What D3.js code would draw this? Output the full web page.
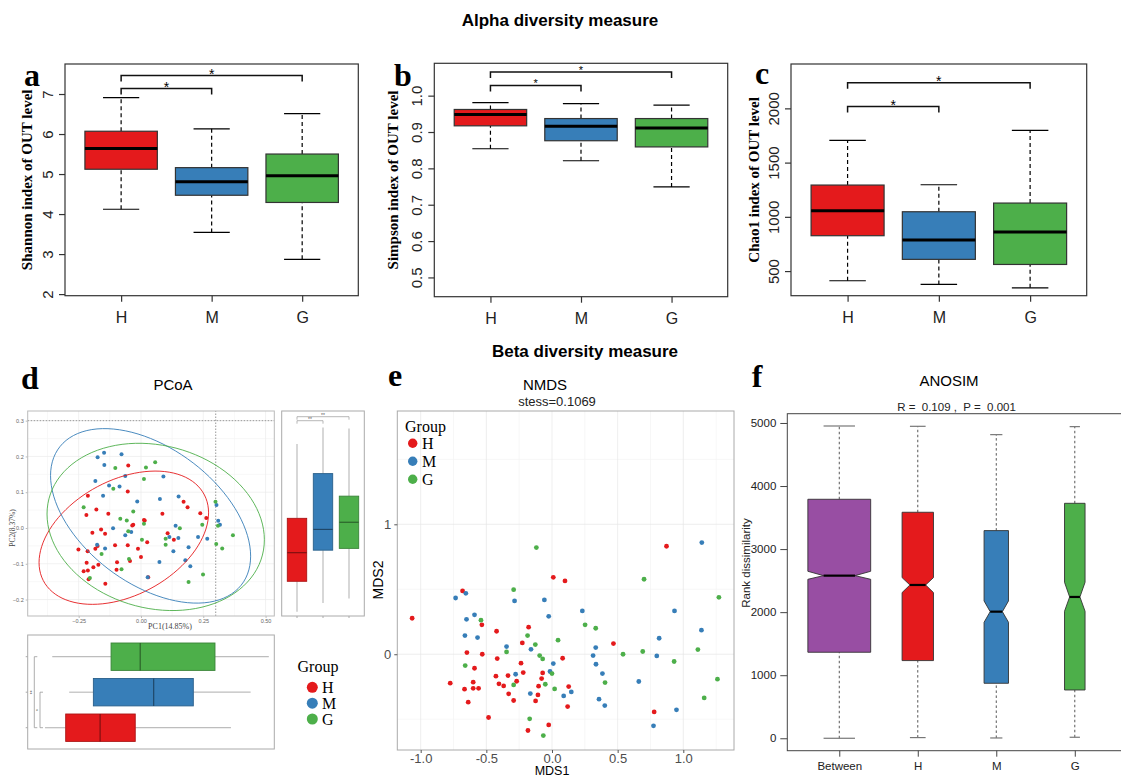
<!DOCTYPE html>
<html>
<head>
<meta charset="utf-8">
<script src="https://cdn.jsdelivr.net/npm/d3@7"></script>
<style>
body { margin: 0; background: #fff; }
svg { display: block; }
</style>
</head>
<body>
<script>
// ---- data ----
var groups = ["H", "M", "G"];
var groupColors = ["#E41A1C", "#377EB8", "#4DAF4A"];

// alpha diversity, per group: [low whisker, Q1, median, Q3, high whisker]
var shannon = [[4.12, 5.12, 5.64, 6.07, 6.91], [3.54, 4.47, 4.81, 5.16, 6.13], [2.87, 4.29, 4.96, 5.50, 6.51]];
var simpson = [[0.854, 0.917, 0.948, 0.962, 0.981], [0.821, 0.876, 0.916, 0.937, 0.978], [0.749, 0.859, 0.911, 0.937, 0.974]];
var chao1 = [[411, 826, 1056, 1293, 1705], [377, 608, 786, 1047, 1296], [346, 561, 860, 1127, 1797]];

// PCoA scores [PC1, PC2]
var pcoaH = [[-0.051,0.175],[-0.213,0.090],[-0.053,0.102],[-0.219,0.036],[-0.179,0.052],[-0.131,0.040],[0.015,0.021],[0.012,0.022],
  [-0.031,0.009],[-0.035,0.007],[0.086,0.040],[0.171,0.073],[0.187,0.058],[0.238,0.041],[0.262,0.028],[-0.195,-0.013],[-0.160,-0.004],
  [-0.144,-0.016],[-0.104,-0.048],[-0.053,-0.048],[-0.174,-0.050],[-0.183,-0.058],[-0.214,-0.065],[-0.251,-0.060],[-0.012,-0.058],
  [0.025,-0.040],[0.000,-0.081],[0.107,-0.015],[0.132,-0.033],[-0.096,-0.096],[-0.044,-0.092],[-0.218,-0.097],[-0.171,-0.103],
  [-0.191,-0.110],[-0.230,-0.121],[-0.213,-0.119],[-0.098,-0.117],[-0.210,-0.143],[-0.143,-0.156],[0.029,-0.138]];
var pcoaM = [[-0.174,0.198],[-0.148,0.210],[-0.078,0.206],[-0.147,0.176],[-0.063,0.145],[-0.183,0.131],[-0.128,0.119],[-0.086,0.116],
  [-0.152,0.090],[0.090,0.144],[-0.015,0.074],[0.076,0.081],[0.151,0.088],[0.303,0.064],[0.310,0.020],[0.317,0.009],[0.266,-0.030],
  [0.229,-0.025],[0.178,-0.090],[0.198,-0.107],[0.191,-0.054],[0.150,-0.028],[0.130,-0.065],[0.114,-0.025],[0.139,0.006],[0.074,-0.095],
  [0.027,-0.138],[-0.039,-0.011],[-0.063,-0.020],[-0.112,-0.001],[-0.176,-0.047],[-0.144,-0.057]];
var pcoaG = [[-0.103,0.168],[0.020,0.169],[0.057,0.184],[0.012,0.137],[-0.111,0.110],[-0.230,0.058],[-0.031,0.046],[-0.083,0.026],
  [-0.057,0.021],[0.012,0.012],[-0.051,-0.009],[0.004,-0.033],[0.099,-0.030],[0.099,-0.047],[0.156,-0.001],[0.246,0.009],[0.299,0.073],
  [0.309,0.006],[0.369,-0.020],[0.302,-0.045],[0.326,-0.057],[0.249,-0.130],[0.191,-0.151],[-0.048,-0.087],[-0.078,-0.115],
  [-0.158,-0.073],[-0.205,-0.140]];
// marginal boxplots [low, Q1, median, Q3, high]
var pc1Box = [[-0.385, -0.302, -0.164, -0.023, 0.361], [-0.288, -0.191, 0.051, 0.210, 0.440], [-0.356, -0.120, -0.003, 0.297, 0.513]];
var pc2Box = [[-0.234, -0.149, -0.069, 0.027, 0.235], [-0.210, -0.062, -0.004, 0.152, 0.281], [-0.197, -0.057, 0.016, 0.089, 0.278]];

// NMDS scores [MDS1, MDS2]
var nmdsH = [[-1.065,0.277],[-0.681,0.487],[0.010,0.592],[0.099,0.564],[0.872,0.831],[-0.534,0.226],[-0.422,0.177],[-0.178,0.208],
  [-0.648,0.013],[-0.531,0.000],[-0.417,-0.033],[-0.590,-0.108],[-0.226,0.087],[-0.236,-0.069],[-0.219,-0.141],[0.081,-0.031],
  [0.468,0.082],[-0.775,-0.223],[-0.666,-0.269],[-0.600,-0.215],[-0.600,-0.262],[-0.559,-0.262],[-0.638,-0.369],[-0.427,-0.169],
  [-0.335,-0.164],[-0.404,-0.228],[-0.368,-0.244],[-0.269,-0.208],[-0.330,-0.305],[-0.292,-0.356],[-0.071,-0.144],[-0.079,-0.187],
  [-0.102,-0.246],[-0.107,-0.313],[-0.125,-0.359],[0.127,-0.249],[0.119,-0.403],[-0.483,-0.487],[-0.183,-0.587],[-0.025,-0.544],
  [0.778,-0.444]];
var nmdsM = [[-0.734,0.433],[-0.656,0.469],[-0.285,0.410],[-0.058,0.418],[-0.025,0.292],[0.231,0.333],[-0.651,0.269],[-0.590,0.303],
  [-0.663,0.144],[-0.567,0.128],[-0.346,0.059],[-0.160,0.038],[0.010,-0.072],[-0.277,-0.154],[-0.015,-0.133],[-0.165,-0.303],
  [0.089,-0.321],[0.147,-0.290],[0.313,-0.010],[0.333,0.051],[0.335,-0.077],[0.384,-0.149],[0.358,-0.346],[0.402,-0.395],
  [0.661,-0.210],[0.798,-0.013],[0.816,0.123],[0.933,0.333],[1.138,0.185],[1.141,0.859],[0.948,-0.428],[0.773,-0.551]];
var nmdsG = [[-0.119,0.821],[-0.292,0.497],[-0.541,0.262],[-0.186,0.144],[-0.127,0.074],[0.046,0.108],[-0.346,0.018],[-0.094,-0.010],
  [-0.071,-0.036],[-0.661,-0.087],[-0.292,-0.236],[-0.051,-0.231],[0.000,-0.149],[0.020,-0.267],[-0.170,-0.497],[-0.066,-0.626],
  [0.252,0.226],[0.333,0.200],[0.404,-0.218],[0.541,0.000],[0.691,0.021],[0.701,0.577],[0.930,-0.056],[1.111,0.036],[1.271,0.438],
  [1.260,-0.192],[1.159,-0.336]];

// ANOSIM rank dissimilarity
var anosimNames = ["Between", "H", "M", "G"];
var anosimColors = ["#984EA3", "#E41A1C", "#377EB8", "#4DAF4A"];
var anosimPairs = [3283, 820, 496, 351];
var anosimStats = [[0, 1364, 2579, 3790, 4952], [11, 1232, 2431, 3584, 4947], [5, 872, 2008, 3293, 4815], [16, 766, 2241, 3726, 4942]];
var anosimNotch = [[2521, 2648], [2310, 2548], [1839, 2178], [2014, 2474]];

// ---- drawing ----
var svg = d3.select("body").append("svg")
  .attr("width", 1121).attr("height", 777)
  .style("font-family", "'Liberation Sans', Arial, sans-serif");
svg.append("rect").attr("width", 1121).attr("height", 777).attr("fill", "#fff");

var serif = "'Liberation Serif', 'Times New Roman', serif";

svg.append("text").attr("x", 560).attr("y", 26).attr("text-anchor", "middle")
  .attr("font-weight", "bold").attr("font-size", 17).text("Alpha diversity measure");
svg.append("text").attr("x", 585).attr("y", 357).attr("text-anchor", "middle")
  .attr("font-weight", "bold").attr("font-size", 17).text("Beta diversity measure");

function letter(t, x, y) {
  svg.append("text").attr("x", x).attr("y", y).attr("text-anchor", "middle")
    .attr("font-family", serif).attr("font-weight", "bold").attr("font-size", 32).text(t);
}

function alphaPanel(o) {
  var x = d3.scaleLinear().domain([0.38, 3.62]).range([o.left, o.right]);
  var y = d3.scaleLinear().domain(o.domain).range([o.bottom, o.top]);
  var g = svg.append("g");
  var hw = x(1.4) - x(1);

  o.stats.forEach(function(s, i) {
    var cx = x(i + 1);
    g.append("line").attr("x1", cx).attr("x2", cx).attr("y1", y(s[0])).attr("y2", y(s[1]))
      .attr("stroke", "#000").attr("stroke-width", 1.2).attr("stroke-dasharray", "4,3");
    g.append("line").attr("x1", cx).attr("x2", cx).attr("y1", y(s[3])).attr("y2", y(s[4]))
      .attr("stroke", "#000").attr("stroke-width", 1.2).attr("stroke-dasharray", "4,3");
    [s[0], s[4]].forEach(function(v) {
      g.append("line").attr("x1", cx - hw / 2).attr("x2", cx + hw / 2).attr("y1", y(v)).attr("y2", y(v))
        .attr("stroke", "#000").attr("stroke-width", 1.2);
    });
    g.append("rect").attr("x", cx - hw).attr("y", y(s[3])).attr("width", 2 * hw).attr("height", y(s[1]) - y(s[3]))
      .attr("fill", groupColors[i]).attr("stroke", "#333").attr("stroke-width", 1.2);
    g.append("line").attr("x1", cx - hw).attr("x2", cx + hw).attr("y1", y(s[2])).attr("y2", y(s[2]))
      .attr("stroke", "#000").attr("stroke-width", 3);
  });

  g.append("rect").attr("x", o.left).attr("y", o.top).attr("width", o.right - o.left).attr("height", o.bottom - o.top)
    .attr("fill", "none").attr("stroke", "#333").attr("stroke-width", 1.2);

  var ya = g.append("g").attr("transform", "translate(" + o.left + ",0)")
    .call(d3.axisLeft(y).tickValues(o.ticks).tickSize(6).tickFormat(o.fmt));
  ya.select(".domain").remove();
  ya.selectAll("line").attr("stroke", "#333").attr("stroke-width", 1.2);
  ya.selectAll("text").attr("transform", "rotate(-90)").attr("x", 0).attr("y", -12).attr("dy", 0)
    .attr("text-anchor", "middle").attr("font-size", 15).attr("fill", "#222");

  var xa = g.append("g").attr("transform", "translate(0," + o.bottom + ")")
    .call(d3.axisBottom(x).tickValues([1, 2, 3]).tickSize(6).tickPadding(10).tickFormat(function(d) { return groups[d - 1]; }));
  xa.select(".domain").remove();
  xa.selectAll("line").attr("stroke", "#333").attr("stroke-width", 1.2);
  xa.selectAll("text").attr("font-size", 16).attr("fill", "#222");

  g.append("text").attr("transform", "translate(" + (o.left - o.labelOff) + "," + ((o.top + o.bottom) / 2) + ") rotate(-90)")
    .attr("text-anchor", "middle").attr("font-family", serif).attr("font-weight", "bold").attr("font-size", 15)
    .text(o.ylabel);

  o.brackets.forEach(function(b) {
    var x1 = x(b.from + 1), x2 = x(b.to + 1), yy = y(b.level);
    g.append("path").attr("d", "M" + x1 + "," + (yy + 6) + "V" + yy + "H" + x2 + "V" + (yy + 6))
      .attr("fill", "none").attr("stroke", "#111").attr("stroke-width", 1.5);
    g.append("text").attr("x", (x1 + x2) / 2).attr("y", yy + o.starDy).attr("text-anchor", "middle")
      .attr("font-size", o.starSize).text("*");
  });
}

alphaPanel({ left: 65, right: 358.3, top: 64, bottom: 295.7, domain: [1.96, 7.75], ticks: [2, 3, 4, 5, 6, 7],
  fmt: d3.format("d"), stats: shannon, ylabel: "Shannon index of OUT level", labelOff: 33, starSize: 14, starDy: 3.5,
  brackets: [{ from: 0, to: 1, level: 7.14 }, { from: 0, to: 2, level: 7.46 }] });
alphaPanel({ left: 434.3, right: 727.7, top: 63.3, bottom: 296.7, domain: [0.447, 1.089], ticks: [0.5, 0.6, 0.7, 0.8, 0.9, 1.0],
  fmt: d3.format(".1f"), stats: simpson, ylabel: "Simpson index of OUT level", labelOff: 36, starSize: 11, starDy: 2,
  brackets: [{ from: 0, to: 1, level: 1.028 }, { from: 0, to: 2, level: 1.065 }] });
alphaPanel({ left: 791, right: 1086.7, top: 64, bottom: 295.7, domain: [273, 2409], ticks: [500, 1000, 1500, 2000],
  fmt: d3.format("d"), stats: chao1, ylabel: "Chao1 index of OUT level", labelOff: 32, starSize: 14, starDy: 3.5,
  brackets: [{ from: 0, to: 1, level: 2018 }, { from: 0, to: 2, level: 2237 }] });

letter("a", 32, 86);
letter("b", 403, 86);
letter("c", 762, 84);

// ---- d: PCoA ----
letter("d", 30, 389);
svg.append("text").attr("x", 173).attr("y", 390).attr("text-anchor", "middle").attr("font-size", 15).text("PCoA");

var pcx = d3.scaleLinear().domain([-0.4545, 0.535]).range([27.7, 274.3]);
var pcy = d3.scaleLinear().domain([-0.246, 0.327]).range([616, 411]);
var pcoaAll = [pcoaH, pcoaM, pcoaG];
var dg = svg.append("g");

function grid(g, x, y, xs, ys, color) {
  xs.forEach(function(v) {
    g.append("line").attr("x1", x(v)).attr("x2", x(v)).attr("y1", y.range()[0]).attr("y2", y.range()[1])
      .attr("stroke", color).attr("stroke-width", 0.7);
  });
  ys.forEach(function(v) {
    g.append("line").attr("x1", x.range()[0]).attr("x2", x.range()[1]).attr("y1", y(v)).attr("y2", y(v))
      .attr("stroke", color).attr("stroke-width", 0.7);
  });
}
grid(dg, pcx, pcy, [-0.375, -0.125, 0.125, 0.375], [-0.15, -0.05, 0.05, 0.15, 0.25], "#f5f5f5");
grid(dg, pcx, pcy, [-0.25, 0, 0.25, 0.5], [-0.2, -0.1, 0, 0.1, 0.2, 0.3], "#ebebeb");

dg.append("line").attr("x1", pcx.range()[0]).attr("x2", pcx.range()[1]).attr("y1", pcy(0.3)).attr("y2", pcy(0.3))
  .attr("stroke", "#999").attr("stroke-dasharray", "1.5,1.5");
dg.append("line").attr("x1", pcx(0.3)).attr("x2", pcx(0.3)).attr("y1", pcy.range()[0]).attr("y2", pcy.range()[1])
  .attr("stroke", "#999").attr("stroke-dasharray", "1.5,1.5");

pcoaAll.forEach(function(pts, i) {
  dg.selectAll(null).data(pts).join("circle")
    .attr("cx", function(d) { return pcx(d[0]); }).attr("cy", function(d) { return pcy(d[1]); })
    .attr("r", 2).attr("fill", groupColors[i]);
});

// 95% ellipse from the scores of each group
function ellipse(pts) {
  var n = pts.length;
  var mx = d3.mean(pts, function(d) { return d[0]; }), my = d3.mean(pts, function(d) { return d[1]; });
  var sxx = 0, syy = 0, sxy = 0;
  pts.forEach(function(d) {
    sxx += (d[0] - mx) * (d[0] - mx); syy += (d[1] - my) * (d[1] - my); sxy += (d[0] - mx) * (d[1] - my);
  });
  sxx /= n - 1; syy /= n - 1; sxy /= n - 1;
  var df = n - 1;
  var f = (df / 2) * (Math.pow(0.05, -2 / df) - 1);
  var r = Math.sqrt(2 * f) * 0.96;
  var a = Math.sqrt(sxx), b = sxy / a, c = Math.sqrt(syy - b * b);
  return d3.range(0, 101).map(function(k) {
    var t = k / 100 * 2 * Math.PI;
    return [mx + r * a * Math.cos(t), my + r * (b * Math.cos(t) + c * Math.sin(t))];
  });
}
var pcLine = d3.line().x(function(d) { return pcx(d[0]); }).y(function(d) { return pcy(d[1]); });
svg.append("clipPath").attr("id", "pcclip").append("rect")
  .attr("x", 27.7).attr("y", 411).attr("width", 246.6).attr("height", 205);
pcoaAll.forEach(function(pts, i) {
  dg.append("path").attr("d", pcLine(ellipse(pts))).attr("fill", "none").attr("clip-path", "url(#pcclip)")
    .attr("stroke", groupColors[i]).attr("stroke-width", 0.9);
});
dg.append("rect").attr("x", 27.7).attr("y", 411).attr("width", 246.6).attr("height", 205)
  .attr("fill", "none").attr("stroke", "#bbb").attr("stroke-width", 1);

var pxa = dg.append("g").attr("transform", "translate(0,616)")
  .call(d3.axisBottom(pcx).tickValues([-0.25, 0, 0.25, 0.5]).tickSize(2).tickPadding(1).tickFormat(d3.format(".2f")));
pxa.select(".domain").remove();
pxa.selectAll("line").attr("stroke", "#bbb");
pxa.selectAll("text").attr("font-size", 5.5).attr("fill", "#666");
var pya = dg.append("g").attr("transform", "translate(27.7,0)")
  .call(d3.axisLeft(pcy).tickValues([-0.2, -0.1, 0, 0.1, 0.2, 0.3]).tickSize(2).tickPadding(2).tickFormat(d3.format(".1f")));
pya.select(".domain").remove();
pya.selectAll("line").attr("stroke", "#bbb");
pya.selectAll("text").attr("font-size", 5.5).attr("fill", "#666");
dg.append("text").attr("x", 170).attr("y", 629).attr("text-anchor", "middle").attr("font-family", serif)
  .attr("font-size", 8).attr("fill", "#444").text("PC1(14.85%)");
dg.append("text").attr("transform", "translate(15,528) rotate(-90)").attr("text-anchor", "middle")
  .attr("font-family", serif).attr("font-size", 7.5).attr("fill", "#444").text("PC2(8.37%)");

// marginal boxplot helper (ggplot style)
function ggBox(g, s, color, pos, half, horiz, sc) {
  var P = function(v, p) { return horiz ? [sc(v), p] : [p, sc(v)]; };
  function seg(v1, p1, v2, p2, stroke, w) {
    var a = P(v1, p1), b = P(v2, p2);
    g.append("line").attr("x1", a[0]).attr("y1", a[1]).attr("x2", b[0]).attr("y2", b[1])
      .attr("stroke", stroke).attr("stroke-width", w);
  }
  seg(s[0], pos, s[1], pos, "#bdbdbd", 1.2);
  seg(s[3], pos, s[4], pos, "#bdbdbd", 1.2);
  var c1 = P(s[1], pos - half), c2 = P(s[3], pos + half);
  g.append("rect").attr("x", Math.min(c1[0], c2[0])).attr("y", Math.min(c1[1], c2[1]))
    .attr("width", Math.abs(c2[0] - c1[0])).attr("height", Math.abs(c2[1] - c1[1]))
    .attr("fill", color).attr("stroke", d3.color(color).darker(0.8)).attr("stroke-width", 0.9);
  seg(s[2], pos - half, s[2], pos + half, d3.color(color).darker(1.6), 1.2);
}

// right margin: PC2 by group
var rg = svg.append("g");
var rpos = d3.scalePoint().domain(groups).range([297, 349]);
rg.append("rect").attr("x", 281.7).attr("y", 411).attr("width", 82.6).attr("height", 205)
  .attr("fill", "none").attr("stroke", "#aaa");
groups.forEach(function(gr, i) {
  ggBox(rg, pc2Box[i], groupColors[i], rpos(gr), 9.7, false, pcy);
  rg.append("line").attr("x1", rpos(gr)).attr("x2", rpos(gr)).attr("y1", 616).attr("y2", 618).attr("stroke", "#aaa");
});
[{ to: "M", y: 420.7, lab: "**" }, { to: "G", y: 416.7, lab: "**" }].forEach(function(b) {
  rg.append("path").attr("d", "M" + rpos("H") + "," + (b.y + 3) + "V" + b.y + "H" + rpos(b.to) + "V" + (b.y + 3))
    .attr("fill", "none").attr("stroke", "#999").attr("stroke-width", 0.7);
  rg.append("text").attr("x", (rpos("H") + rpos(b.to)) / 2).attr("y", b.y + 0.5).attr("text-anchor", "middle")
    .attr("font-size", 5).attr("fill", "#555").text(b.lab);
});

// bottom margin: PC1 by group
var bg = svg.append("g");
var bpos = d3.scalePoint().domain(groups).range([727.7, 656.7]);
bg.append("rect").attr("x", 27.7).attr("y", 635).attr("width", 246.6).attr("height", 114)
  .attr("fill", "none").attr("stroke", "#aaa");
groups.forEach(function(gr, i) {
  ggBox(bg, pc1Box[i], groupColors[i], bpos(gr), 13.7, true, pcx);
  bg.append("line").attr("x1", 25.7).attr("x2", 27.7).attr("y1", bpos(gr)).attr("y2", bpos(gr)).attr("stroke", "#aaa");
});
[{ to: "G", x: 34.3, lab: "**" }, { to: "M", x: 40, lab: "*" }].forEach(function(b) {
  bg.append("path").attr("d", "M" + (b.x + 3) + "," + bpos("H") + "H" + b.x + "V" + bpos(b.to) + "H" + (b.x + 3))
    .attr("fill", "none").attr("stroke", "#999").attr("stroke-width", 0.8);
  bg.append("text").attr("transform", "translate(" + (b.x - 0.5) + "," + ((bpos("H") + bpos(b.to)) / 2) + ") rotate(-90)")
    .attr("text-anchor", "middle").attr("font-size", 5).attr("fill", "#555").text(b.lab);
});

// group legend for d
var lg = svg.append("g");
lg.append("text").attr("x", 318).attr("y", 672).attr("text-anchor", "middle").attr("font-family", serif)
  .attr("font-size", 16).text("Group");
var legY = d3.scalePoint().domain(groups).range([687.3, 719]);
groups.forEach(function(gr, i) {
  lg.append("circle").attr("cx", 312.3).attr("cy", legY(gr)).attr("r", 5.5).attr("fill", groupColors[i]);
  lg.append("text").attr("x", 322).attr("y", legY(gr) + 5.5).attr("font-family", serif).attr("font-size", 16).text(gr);
});

// ---- e: NMDS ----
letter("e", 395, 386);
svg.append("text").attr("x", 545).attr("y", 390).attr("text-anchor", "middle").attr("font-size", 15).text("NMDS");
svg.append("text").attr("x", 557).attr("y", 406).attr("text-anchor", "middle").attr("font-size", 13).attr("fill", "#222")
  .text("stess=0.1069");

var mx = d3.scaleLinear().domain([-1.178, 1.386]).range([397.3, 734]);
var my = d3.scaleLinear().domain([-0.737, 1.872]).range([750, 411]);
var eg = svg.append("g");
grid(eg, mx, my, [-0.75, -0.25, 0.25, 0.75, 1.25], [-0.5, 0.5, 1.5], "#f4f4f4");
grid(eg, mx, my, [-1, -0.5, 0, 0.5, 1], [0, 1], "#e6e6e6");
[nmdsH, nmdsM, nmdsG].forEach(function(pts, i) {
  eg.selectAll(null).data(pts).join("circle")
    .attr("cx", function(d) { return mx(d[0]); }).attr("cy", function(d) { return my(d[1]); })
    .attr("r", 2.4).attr("fill", groupColors[i]);
});
eg.append("rect").attr("x", 397.3).attr("y", 411).attr("width", 336.7).attr("height", 339)
  .attr("fill", "none").attr("stroke", "#aaa").attr("stroke-width", 1);
var exa = eg.append("g").attr("transform", "translate(0,750)")
  .call(d3.axisBottom(mx).tickValues([-1, -0.5, 0, 0.5, 1]).tickSize(3).tickPadding(1).tickFormat(d3.format(".1f")));
exa.select(".domain").remove();
exa.selectAll("line").attr("stroke", "#555");
exa.selectAll("text").attr("font-size", 13).attr("fill", "#4d4d4d").text(function(d) { return d3.format(".1f")(d).replace("\u2212", "-"); });
var eya = eg.append("g").attr("transform", "translate(397.3,0)")
  .call(d3.axisLeft(my).tickValues([0, 1]).tickSize(3).tickPadding(3).tickFormat(d3.format("d")));
eya.select(".domain").remove();
eya.selectAll("line").attr("stroke", "#555");
eya.selectAll("text").attr("font-size", 13).attr("fill", "#4d4d4d");
eg.append("text").attr("x", 552).attr("y", 775).attr("text-anchor", "middle").attr("font-size", 12.5).text("MDS1");
eg.append("text").attr("transform", "translate(383,580) rotate(-90)").attr("text-anchor", "middle")
  .attr("font-size", 14).text("MDS2");

var elg = eg.append("g");
elg.append("text").attr("x", 405).attr("y", 432).attr("font-family", serif).attr("font-size", 16).text("Group");
var eLegY = d3.scalePoint().domain(groups).range([443.3, 479.3]);
groups.forEach(function(gr, i) {
  elg.append("circle").attr("cx", 412.7).attr("cy", eLegY(gr)).attr("r", 4.7).attr("fill", groupColors[i]);
  elg.append("text").attr("x", 422).attr("y", eLegY(gr) + 5.5).attr("font-family", serif).attr("font-size", 16).text(gr);
});

// ---- f: ANOSIM ----
letter("f", 757, 387);
svg.append("text").attr("x", 949).attr("y", 386).attr("text-anchor", "middle").attr("font-size", 15).text("ANOSIM");
svg.append("text").attr("x", 956.5).attr("y", 411).attr("text-anchor", "middle").attr("font-size", 11.5).attr("fill", "#222")
  .style("white-space", "pre").text("R =  0.109 ,  P =  0.001");

var fx = d3.scaleLinear().domain([0.338, 4.66]).range([787.3, 1126.6]);
var fy = d3.scaleLinear().domain([-197, 5147]).range([750.7, 413.7]);
var fg = svg.append("g");
var nMax = d3.max(anosimPairs);
anosimStats.forEach(function(s, i) {
  var cx = fx(i + 1);
  var hw = (fx(1.4) - fx(1)) * Math.sqrt(anosimPairs[i] / nMax);
  var nt = anosimNotch[i];
  [[s[0], s[1]], [s[3], s[4]]].forEach(function(w) {
    fg.append("line").attr("x1", cx).attr("x2", cx).attr("y1", fy(w[0])).attr("y2", fy(w[1]))
      .attr("stroke", "#444").attr("stroke-width", 0.9).attr("stroke-dasharray", "2.5,2.5");
  });
  [s[0], s[4]].forEach(function(v) {
    fg.append("line").attr("x1", cx - hw / 2).attr("x2", cx + hw / 2).attr("y1", fy(v)).attr("y2", fy(v))
      .attr("stroke", "#777").attr("stroke-width", 1.2);
  });
  var poly = [[cx - hw, fy(s[1])], [cx - hw, fy(nt[0])], [cx - hw / 2, fy(s[2])], [cx - hw, fy(nt[1])], [cx - hw, fy(s[3])],
    [cx + hw, fy(s[3])], [cx + hw, fy(nt[1])], [cx + hw / 2, fy(s[2])], [cx + hw, fy(nt[0])], [cx + hw, fy(s[1])]];
  fg.append("path").attr("d", "M" + poly.join("L") + "Z").attr("fill", anosimColors[i])
    .attr("stroke", "#333").attr("stroke-width", 0.9);
  fg.append("line").attr("x1", cx - hw / 2).attr("x2", cx + hw / 2).attr("y1", fy(s[2])).attr("y2", fy(s[2]))
    .attr("stroke", "#000").attr("stroke-width", 2.2);
});
fg.append("rect").attr("x", 787.3).attr("y", 413.7).attr("width", 339.3).attr("height", 337)
  .attr("fill", "none").attr("stroke", "#444").attr("stroke-width", 1);
var fya = fg.append("g").attr("transform", "translate(787.3,0)")
  .call(d3.axisLeft(fy).tickValues([0, 1000, 2000, 3000, 4000, 5000]).tickSize(7).tickPadding(4).tickFormat(d3.format("d")));
fya.select(".domain").remove();
fya.selectAll("line").attr("stroke", "#444");
fya.selectAll("text").attr("font-size", 11.5).attr("fill", "#222");
var fxa = fg.append("g").attr("transform", "translate(0,750.7)")
  .call(d3.axisBottom(fx).tickValues([1, 2, 3, 4]).tickSize(6).tickPadding(5).tickFormat(function(d) { return anosimNames[d - 1]; }));
fxa.select(".domain").remove();
fxa.selectAll("line").attr("stroke", "#444");
fxa.selectAll("text").attr("font-size", 11.5).attr("fill", "#222");
fg.append("text").attr("transform", "translate(750,563) rotate(-90)").attr("text-anchor", "middle")
  .attr("font-size", 11.5).attr("fill", "#222").text("Rank dissimilarity");
</script>
</body>
</html>
